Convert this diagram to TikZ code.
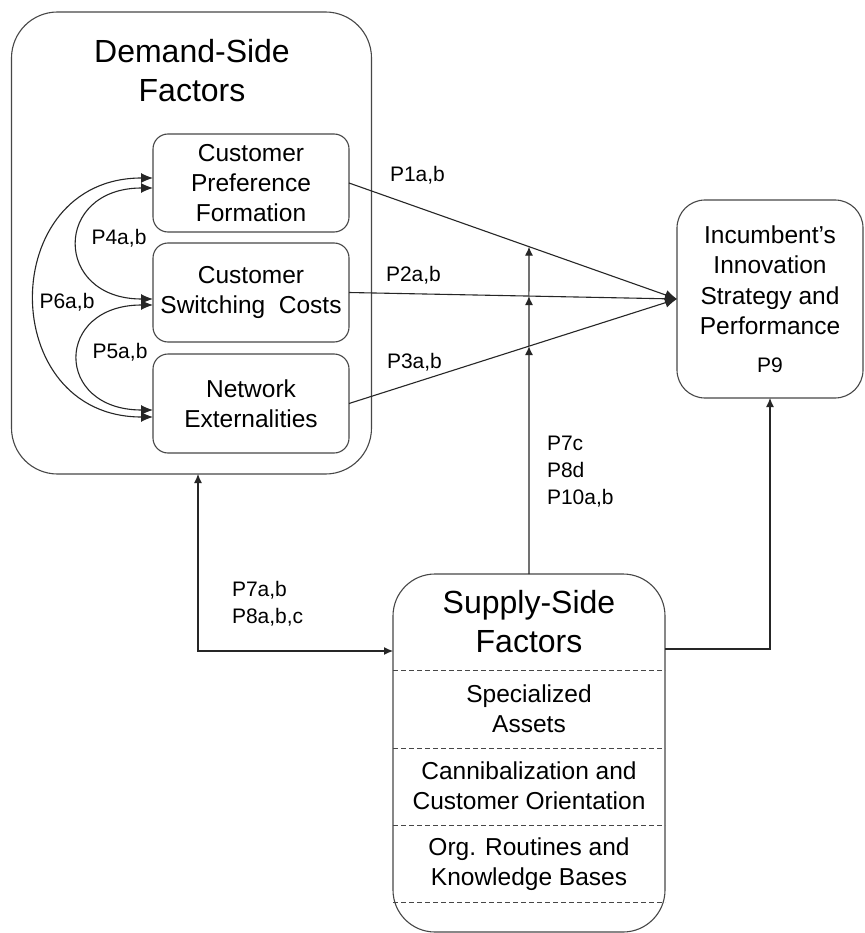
\documentclass[tikz,border=0pt]{standalone}
\usepackage{fontspec}
\setmainfont{Liberation Sans}
\usetikzlibrary{arrows.meta,calc}

\begin{document}
\begin{tikzpicture}[x=1pt,y=-1pt,
  every node/.style={inner sep=0pt, outer sep=0pt},
  panel/.style={draw=black!72, line width=1.1pt},
  factorbox/.style={panel, rounded corners=15pt, minimum width=196pt,
    align=center, font=\fontsize{24.5}{30}\selectfont},
  titletext/.style={align=center, font=\fontsize{32}{39}\selectfont},
  bodytext/.style={align=center, font=\fontsize{24.5}{30}\selectfont},
  plabel/.style={align=left, font=\fontsize{21}{27}\selectfont},
  conn/.style={draw=black!85, line width=1.1pt},
  bighead/.style={-{Latex[length=12pt,width=10pt]}},
  smallhead/.style={-{Latex[length=9pt,width=8pt]}},
  twohead/.style={{Latex[length=12pt,width=10pt]}-{Latex[length=12pt,width=10pt]}},
  divider/.style={draw=black!72, line width=1pt, dash pattern=on 5pt off 3pt}
]
\useasboundingbox (0,0) rectangle (864,933);
\fill[white] (0,0) rectangle (864,933);

% ---- demand side -------------------------------------------------
\node[panel, rounded corners=46pt, minimum width=360pt, minimum height=462pt]
  (dem) at (191.5,243) {};
\node[titletext] (demtitle) at (192,70.8) {Demand-Side\\Factors};

\node[factorbox, minimum height=98pt] (pref)   at (251,183)   {Customer\\Preference\\Formation};
\node[factorbox, minimum height=99pt] (switch) at (251,292.5) {Customer\\Switching\ \ Costs};
\node[factorbox, minimum height=99pt] (netw)   at (251,403.5) {Network\\Externalities};

% links among the demand-side factors
\draw[conn, twohead]
  ([yshift=-5pt]pref.west) .. controls (53,188) and (53,299) .. ([yshift=-6.5pt]switch.west);
\draw[conn, twohead]
  ([yshift=-12.5pt]switch.west) .. controls (54,305) and (54,410) .. ([yshift=-6.5pt]netw.west);
\draw[conn, twohead]
  ([yshift=5pt]pref.west) .. controls (-4,178) and (-4,417) .. ([yshift=-13.5pt]netw.west);

\node[plabel] (p4) at (119,238) {P4a,b};
\node[plabel] (p5) at (120,352) {P5a,b};
\node[plabel] (p6) at (67,302)  {P6a,b};

% ---- outcome -----------------------------------------------------
\node[panel, rounded corners=28pt, minimum width=186pt, minimum height=198pt]
  (inc) at (770,299) {};
\node[bodytext, font=\fontsize{24.5}{30.5}\selectfont] (inctext) at (770,280)
  {Incumbent’s\\Innovation\\Strategy and\\Performance};
\node[plabel] (p9) at (770,365) {P9};

% ---- supply side -------------------------------------------------
\node[panel, rounded corners=42pt, minimum width=272pt, minimum height=358pt]
  (sup) at (529,753) {};
\node[titletext] (suptitle) at (529,621.8) {Supply-Side\\Factors};
\foreach \yy in {670,748,825,902}
  \draw[divider] (sup.west |- 0,\yy) -- (sup.east |- 0,\yy);
\node[bodytext] (assets)   at (529,709) {Specialized\\Assets};
\node[bodytext] (cannib)   at (529,786) {Cannibalization and\\Customer Orientation};
\node[bodytext] (routines) at (529,864) {Org. Routines and\\Knowledge Bases};

% ---- direct effects ----------------------------------------------
\draw[conn, bighead] (pref.east)   -- (inc.west);
\draw[conn, bighead] (switch.east) -- (inc.west);
\draw[conn, bighead] (netw.east)   -- (inc.west);
\node[plabel, anchor=west] (p1) at (390,175.7) {P1a,b};
\node[plabel, anchor=west] (p2) at (386,275)   {P2a,b};
\node[plabel, anchor=west] (p3) at (387,362)   {P3a,b};

% ---- moderating line from the supply side ------------------------
\coordinate (vtop) at (529,150);
\coordinate (m1) at (intersection of pref.east--inc.west and sup.north--vtop);
\coordinate (m2) at (intersection of switch.east--inc.west and sup.north--vtop);
\coordinate (m3) at (intersection of netw.east--inc.west and sup.north--vtop);
\draw[conn, smallhead] (sup.north) -- (m3);
\draw[conn, smallhead] (m3) -- (m2);
\draw[conn, smallhead] (m2) -- (m1);
\node[plabel, anchor=west] (p7c) at (547,471.7) {P7c\\P8d\\P10a,b};

% ---- demand <-> supply -------------------------------------------
\coordinate (dscorner) at (198,651);
\draw[conn, {Latex[length=9pt,width=8pt]}-{Latex[length=9pt,width=8pt]}]
  (dscorner |- dem.south) -- (dscorner) -- (dscorner -| sup.west);
\node[plabel, anchor=west] (p78) at (232,604) {P7a,b\\P8a,b,c};

% ---- supply -> outcome -------------------------------------------
\coordinate (sicorner) at (770,649);
\draw[conn, smallhead] (sicorner -| sup.east) -- (sicorner) -- (inc.south);

\end{tikzpicture}
\end{document}
